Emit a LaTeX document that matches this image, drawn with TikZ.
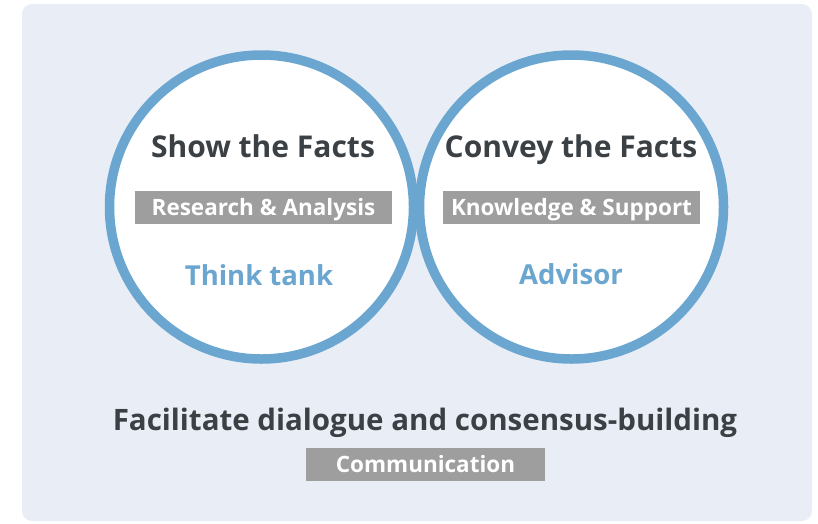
\documentclass[tikz,border=0pt]{standalone}
\usepackage{fontspec}
\setmainfont{Open Sans}
\usepackage{xcolor}
\definecolor{bgpanel}{HTML}{E9EDF5}
\definecolor{ringblue}{HTML}{6AA6CF}
\definecolor{darktext}{HTML}{3B4044}
\definecolor{tagfill}{HTML}{9D9E9D}
\begin{document}
\begin{tikzpicture}[x=1pt, y=-1pt,
            ring/.style={circle, draw=ringblue, line width=9.5pt, fill=white, minimum size=304pt, inner sep=0pt},
            heading/.style={text=darktext, anchor=base, inner sep=0pt, font=\bfseries\fontsize{30}{34}\selectfont},
            tag/.style={fill=tagfill, text=white, minimum height=33pt, inner sep=0pt, text height=16.2pt, text depth=0pt, font=\bfseries\fontsize{22.5}{26}\selectfont},
            role/.style={text=ringblue, anchor=base, inner sep=0pt, font=\bfseries\fontsize{27.5}{32}\selectfont},
        ]
        \useasboundingbox (0,0) rectangle (818,523);
        \fill[bgpanel, rounded corners=10pt] (22,4) rectangle (812,521);
        \node[ring] (showring) at (261.5,207) {};
        \node[ring] (conveyring) at (571.5,207) {};
        \node[heading] (show) at (263,157) {Show the Facts};
        \node[tag, minimum width=257pt] (research) at (263.5,207.5) {Research \& Analysis};
        \node[role] (thinktank) at (259,285) {Think tank};
        \node[heading] (convey) at (571,157) {Convey the Facts};
        \node[tag, minimum width=257pt] (knowledge) at (571.5,207.5) {Knowledge \& Support};
        \node[role] (advisor) at (571,284) {Advisor};
        \node[heading, font=\bfseries\fontsize{29.5}{34}\selectfont] (dialogue) at (425,430) {Facilitate dialogue and consensus-building};
        \node[tag, minimum width=239pt] (communication) at (425.5,464.5) {Communication};
        \end{tikzpicture}
\end{document}
